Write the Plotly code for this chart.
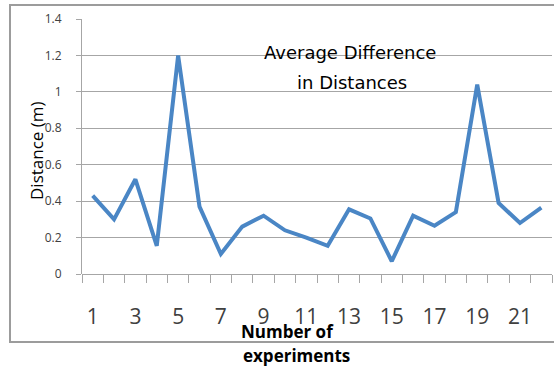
import plotly.graph_objects as go

experiments = list(range(1, 23))
avg_difference = [0.43, 0.30, 0.52, 0.155, 1.20, 0.37, 0.11, 0.26, 0.32, 0.24, 0.20,
                  0.155, 0.355, 0.305, 0.07, 0.32, 0.265, 0.34, 1.04, 0.39, 0.28, 0.365]
x_tick_labels = [str(v) for v in range(1, 23, 2)]
y_tick_values = [0, 0.2, 0.4, 0.6, 0.8, 1.0, 1.2, 1.4]
y_tick_labels = ["0", "0.2", "0.4", "0.6", "0.8", "1", "1.2", "1.4"]

FONT = "Open Sans"
GRID = "#a6a6a6"
TICKFONT = "#404040"

# plot area in pixels: x 82..552, y 19..274
L, R, T, B = 82, 552, 19, 274
W, H = R - L, B - T


def px(x):
    return (x - L) / W


def py(y):
    return (B - y) / H


fig = go.Figure()
fig.add_trace(go.Scatter(
    x=experiments, y=avg_difference, mode="lines",
    line=dict(color="#4a86c5", width=4), hoverinfo="x+y",
))

fig.update_layout(
    width=554, height=366,
    margin=dict(l=L, r=554 - R, t=T, b=366 - B),
    paper_bgcolor="white", plot_bgcolor="white",
    showlegend=False,
    font=dict(family=FONT, color="black"),
    xaxis=dict(
        range=[0.5, 22.5],
        tickmode="array",
        tickvals=[int(t) for t in x_tick_labels],
        ticktext=x_tick_labels,
        ticks="", showgrid=False, zeroline=False,
        showline=False,
        tickfont=dict(size=21, color=TICKFONT, family=FONT),
        ticklabelstandoff=28,
        minor=dict(tickvals=[v + 0.5 for v in range(0, 23)], ticks="outside",
                   ticklen=8, tickcolor=GRID, tickwidth=1, showgrid=False),
    ),
    yaxis=dict(
        range=[0, 1.4],
        tickmode="array", tickvals=y_tick_values, ticktext=y_tick_labels,
        showgrid=True, gridcolor=GRID, gridwidth=1,
        zeroline=True, zerolinecolor=GRID, zerolinewidth=1,
        showline=True, linecolor=GRID, linewidth=1,
        ticks="outside", ticklen=5, tickcolor=GRID,
        tickfont=dict(size=12, color=TICKFONT, family=FONT),
        ticklabelstandoff=12,
    ),
    shapes=[
        dict(type="rect", xref="paper", yref="paper",
             x0=px(10), x1=px(562), y0=py(342), y1=py(5),
             line=dict(color="#9c9c9c", width=2), layer="below"),
    ],
    annotations=[
        dict(text="Average Difference", x=px(350), y=py(53),
             font=dict(size=18, color="black", family="DejaVu Sans")),
        dict(text="in Distances", x=px(352), y=py(82),
             font=dict(size=18, color="black", family="DejaVu Sans")),
        dict(text="Distance (m)", textangle=-90, x=px(37), y=py(151),
             font=dict(size=17, color="black", family=FONT)),
        dict(text="<b>Number of</b>", x=px(287), y=py(331),
             font=dict(size=17, color="black", family=FONT)),
        dict(text="<b>experiments</b>", x=px(296), y=py(355),
             font=dict(size=17, color="black", family=FONT)),
    ],
)
fig.update_annotations(xref="paper", yref="paper", showarrow=False,
                       xanchor="center", yanchor="middle")

fig.write_html("out.html")
